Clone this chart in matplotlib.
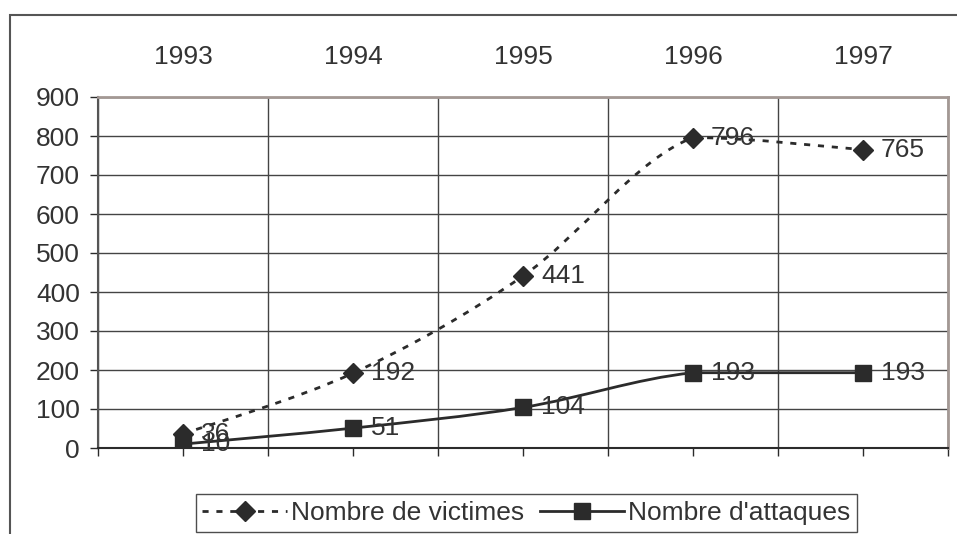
import matplotlib
matplotlib.use("Agg")
import matplotlib.pyplot as plt
from matplotlib.path import Path
from matplotlib.patches import PathPatch, Rectangle
from matplotlib.lines import Line2D
import numpy as np

plt.rcParams['font.family'] = ['Liberation Sans', 'DejaVu Sans']

years = ['1993', '1994', '1995', '1996', '1997']
victimes = [36, 192, 441, 796, 765]
attaques = [10, 51, 104, 193, 193]
y_ticks = [0, 100, 200, 300, 400, 500, 600, 700, 800, 900]
label_victimes = 'Nombre de victimes'
label_attaques = "Nombre d'attaques"

TXT = '#333333'
DARK = '#2b2b2b'
FS = 19
DASH = (0, (2.2, 2.8))


def smooth_path(xs, ys):
    xs = np.asarray(xs, float)
    ys = np.asarray(ys, float)
    n = len(xs)
    verts = [(xs[0], ys[0])]
    codes = [Path.MOVETO]
    for i in range(n - 1):
        p0 = i - 1 if i > 0 else i
        p3 = i + 2 if i + 2 < n else i + 1
        c1x = xs[i] + (xs[i + 1] - xs[p0]) / 6
        c1y = ys[i] + (ys[i + 1] - ys[p0]) / 6
        c2x = xs[i + 1] - (xs[p3] - xs[i]) / 6
        c2y = ys[i + 1] - (ys[p3] - ys[i]) / 6
        lo, hi = min(ys[i], ys[i + 1]), max(ys[i], ys[i + 1])
        c1y = min(max(c1y, lo), hi)
        c2y = min(max(c2y, lo), hi)
        verts += [(c1x, c1y), (c2x, c2y), (xs[i + 1], ys[i + 1])]
        codes += [Path.CURVE4] * 3
    return Path(verts, codes)


fig = plt.figure(figsize=(9.57, 5.34), dpi=100)
ax = fig.add_axes([98 / 957, 1 - 448 / 534, (948 - 98) / 957, (448 - 97) / 534])

x = np.arange(len(years))

pv = PathPatch(smooth_path(x, victimes), fill=False, edgecolor=DARK, lw=2.0,
               linestyle=DASH, zorder=3)
ax.add_patch(pv)
pa = PathPatch(smooth_path(x, attaques), fill=False, edgecolor=DARK, lw=2.0,
               linestyle='-', zorder=3)
ax.add_patch(pa)

ax.plot(x, victimes, linestyle='none', marker='D', markersize=10, color=DARK, zorder=4)
ax.plot(x, attaques, linestyle='none', marker='s', markersize=11.5, color=DARK, zorder=4)

for xi, v in zip(x, victimes):
    ax.annotate(str(v), (xi, v), xytext=(13, 0), textcoords='offset points',
                ha='left', va='center', fontsize=FS, color=TXT, zorder=5)
for xi, v in zip(x, attaques):
    ax.annotate(str(v), (xi, v), xytext=(13, 0), textcoords='offset points',
                ha='left', va='center', fontsize=FS, color=TXT, zorder=5)

ax.set_xlim(-0.5, len(years) - 0.5)
ax.set_ylim(0, 900)
ax.set_yticks(y_ticks)
ax.set_yticklabels([str(t) for t in y_ticks], fontsize=FS, color=TXT)
ax.set_xticks(x)
ax.set_xticklabels(years, fontsize=FS, color=TXT)
ax.set_xticks(np.arange(len(years) + 1) - 0.5, minor=True)
ax.tick_params(axis='x', which='both', top=False, bottom=True, labeltop=True,
               labelbottom=False, direction='out', length=6, width=1, color=DARK)
ax.tick_params(axis='x', which='major', pad=14)
ax.tick_params(axis='y', direction='out', length=6, width=1, color=DARK, pad=7)

ax.grid(True, axis='y', which='major', color='#444444', lw=1)
ax.grid(True, axis='x', which='minor', color='#444444', lw=1)
ax.grid(False, axis='x', which='major')
ax.set_axisbelow(True)

for s in ['top', 'right']:
    ax.spines[s].set_color('#a39894')
    ax.spines[s].set_linewidth(2)
ax.spines['left'].set_color('#555555')
ax.spines['left'].set_linewidth(1.5)
ax.spines['bottom'].set_color(DARK)
ax.spines['bottom'].set_linewidth(1.5)

handles = [
    Line2D([], [], color=DARK, lw=2.0, linestyle=DASH, marker='D', markersize=10),
    Line2D([], [], color=DARK, lw=2.0, linestyle='-', marker='s', markersize=11.5),
]
leg = fig.legend(handles, [label_victimes, label_attaques], loc='center',
                 bbox_to_anchor=(526.5 / 957, 1 - 513 / 534), bbox_transform=fig.transFigure,
                 ncol=2, fontsize=FS, frameon=True, fancybox=False, handlelength=3.2,
                 handletextpad=0.15, columnspacing=0.6, borderpad=0.25, borderaxespad=0)
leg.get_frame().set_edgecolor('#222222')
leg.get_frame().set_linewidth(1.0)
for t in leg.get_texts():
    t.set_color(TXT)

fig.add_artist(Rectangle((10 / 957, -0.2), 2.0, 1.2 - 15 / 534, transform=fig.transFigure,
                         fill=False, edgecolor='#555555', lw=1.5))

fig.savefig('out.png', dpi=100)
